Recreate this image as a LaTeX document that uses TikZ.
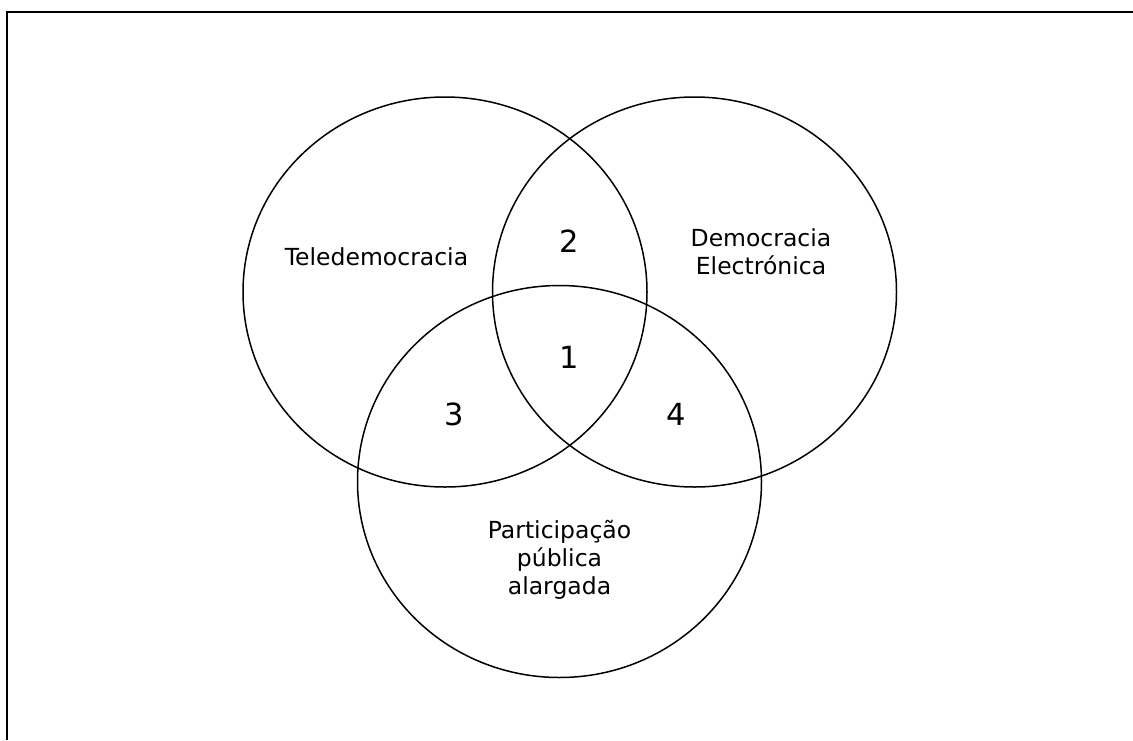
\documentclass[tikz,border=0pt]{standalone}
\usepackage{fontspec}
\setmainfont{DejaVu Sans}
\usetikzlibrary{calc}
\tikzset{
  setline/.style={line width=1.5pt},
  setlabel/.style={font=\fontsize{23.5}{28}\selectfont, align=center, anchor=base},
  setnum/.style={font=\fontsize{30.5}{34}\selectfont},
}
\begin{document}
\begin{tikzpicture}[x=1pt,y=-1pt]
				\useasboundingbox (0,0) rectangle (1133,740);
				\draw[line width=2pt] (7,740) -- (7,12) -- (1133,12);
				
				\draw[setline] (445,292) ellipse [x radius=202pt, y radius=195pt];
				\draw[setline] (694.5,292) ellipse [x radius=202pt, y radius=195pt];
				\draw[setline] (559.5,481.5) ellipse [x radius=202pt, y radius=196pt];
				
				\node[setlabel] (tele) at (376.5,265) {Teledemocracia};
				\node[setlabel] (edem) at (761,274) {Democracia\\Electrónica};
				\node[setlabel] (part) at (559.5,594) {Participação\\pública\\alargada};
				
				\node[setnum] (n2) at (569.5,241) {2};
				\node[setnum] (n1) at (569.5,357) {1};
				\node[setnum] (n3) at (454,414) {3};
				\node[setnum] (n4) at (676,414) {4};
			\end{tikzpicture}
\end{document}
